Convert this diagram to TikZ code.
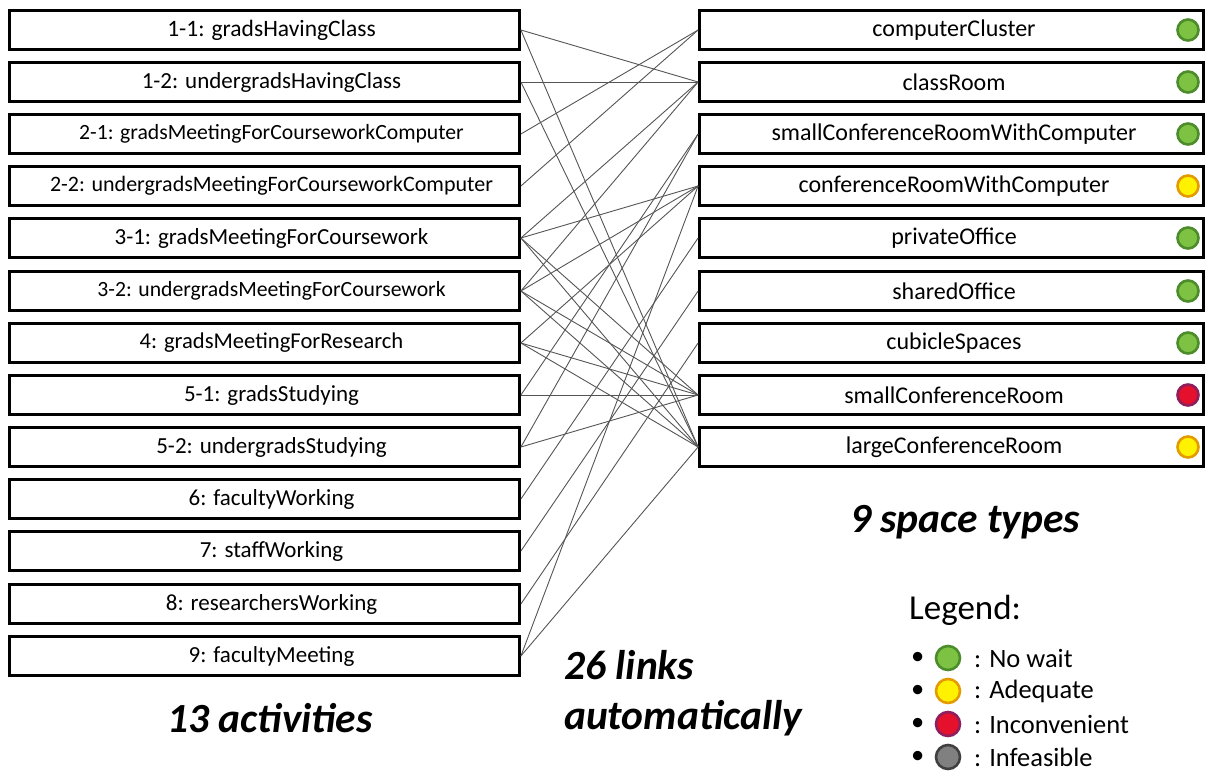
\documentclass[tikz,border=0pt]{standalone}
\usepackage{fontspec}
\setmainfont{Carlito}
\definecolor{gIn}{HTML}{7DC242}
\definecolor{gOut}{HTML}{4C8C2B}
\definecolor{yIn}{HTML}{FFF200}
\definecolor{yOut}{HTML}{E39B00}
\definecolor{rIn}{HTML}{E4102C}
\definecolor{rOut}{HTML}{8E1E5C}
\definecolor{kIn}{HTML}{808080}
\definecolor{kOut}{HTML}{404040}
\definecolor{linkc}{HTML}{555555}
\tikzset{
  lbox/.style={draw=black, line width=2.8pt, fill=white, minimum width=510pt, minimum height=38.5pt, inner sep=0pt, font=\fontsize{23}{26}\selectfont},
  rbox/.style={lbox, minimum width=504pt, font=\fontsize{24}{26}\selectfont},
  fs/.style={font=\fontsize{#1}{26}\selectfont},
  link/.style={draw=linkc, line width=0.9pt},
  dotg/.style={circle, draw=gOut, fill=gIn, line width=2.6pt, minimum size=21pt, inner sep=0pt},
  doty/.style={dotg, draw=yOut, fill=yIn},
  dotr/.style={dotg, draw=rOut, fill=rIn},
  dotk/.style={dotg, draw=kOut, fill=kIn},
  legdot/.style={minimum size=24pt},
  bigt/.style={font=\bfseries\itshape\fontsize{41.5}{50}\selectfont, inner sep=0pt},
  legt/.style={font=\fontsize{26.5}{30}\selectfont, inner sep=0pt, anchor=west},
}
\begin{document}
\begin{tikzpicture}[x=1pt,y=-1pt]
\useasboundingbox (0,0) rectangle (1207,772);
% left boxes
\foreach \n/\yy/\f/\t in {a1/30/23.5/{1-1: gradsHavingClass},a2/82/23/{1-2: undergradsHavingClass},a3/134/21.7/{2-1: gradsMeetingForCourseworkComputer},a4/186/22/{2-2: undergradsMeetingForCourseworkComputer},a5/238/23/{3-1: gradsMeetingForCoursework},a6/291/21.7/{3-2: undergradsMeetingForCoursework},a7/343/22.6/{4: gradsMeetingForResearch},a8/395/23/{5-1: gradsStudying},a9/447/23/{5-2: undergradsStudying},a10/499/23/{6: facultyWorking},a11/551/23/{7: staffWorking},a12/604/23/{8: researchersWorking},a13/656/23/{9: facultyMeeting}}
  \node[lbox, fs=\f] (\n) at (264.5,\yy) {\hspace*{14pt}\t};
% right boxes
\foreach \n/\yy/\t in {b1/30/computerCluster,b2/82/classRoom,b3/134/smallConferenceRoomWithComputer,b4/186/conferenceRoomWithComputer,b5/238/privateOffice,b6/291/sharedOffice,b7/343/cubicleSpaces,b8/395/smallConferenceRoom,b9/447/largeConferenceRoom}
  \node[rbox] (\n) at (951.5,\yy) {\hspace*{5pt}\t};
% status dots
\node[dotg] (d1) at (1188,30) {};
\node[dotg] (d2) at (1188,82) {};
\node[dotg] (d3) at (1188,134) {};
\node[doty] (d4) at (1188,186) {};
\node[dotg] (d5) at (1188,238) {};
\node[dotg] (d6) at (1188,291) {};
\node[dotg] (d7) at (1188,343) {};
\node[dotr] (d8) at (1188,395) {};
\node[doty] (d9) at (1188,447) {};
% links
\foreach \s/\e in {a1/b2,a1/b9,a2/b2,a2/b9,a3/b1,a4/b1,a5/b2,a5/b4,a5/b8,a5/b9,a6/b2,a6/b4,a6/b8,a6/b9,a7/b4,a7/b8,a7/b9,a8/b3,a8/b8,a9/b3,a9/b8,a10/b5,a11/b6,a12/b7,a13/b4,a13/b9}
  \draw[link] (\s.east) -- (\e.west);
% captions
\node[bigt] (c1) at (965,522) {9 space types};
\node[bigt] (c2) at (270,718) {13 activities};
\node[bigt, align=left, anchor=west] (c3) at (564,693) {26 links\\automatically};
% legend
\node[font=\fontsize{35}{38}\selectfont, inner sep=0pt, anchor=west] (lg) at (909,610) {Legend:};
\foreach \k/\yy/\st/\t in {1/658/dotg/{: No wait},2/691/doty/{: Adequate},3/724/dotr/{: Inconvenient},4/757/dotk/{: Infeasible}}{
  \node[legt] (lb\k) at (911,\yy) {\textbullet};
  \node[\st, legdot] (li\k) at (948,\yy) {};
  \node[legt] (lt\k) at (974,\yy) {\t};
}
\end{tikzpicture}
\end{document}
